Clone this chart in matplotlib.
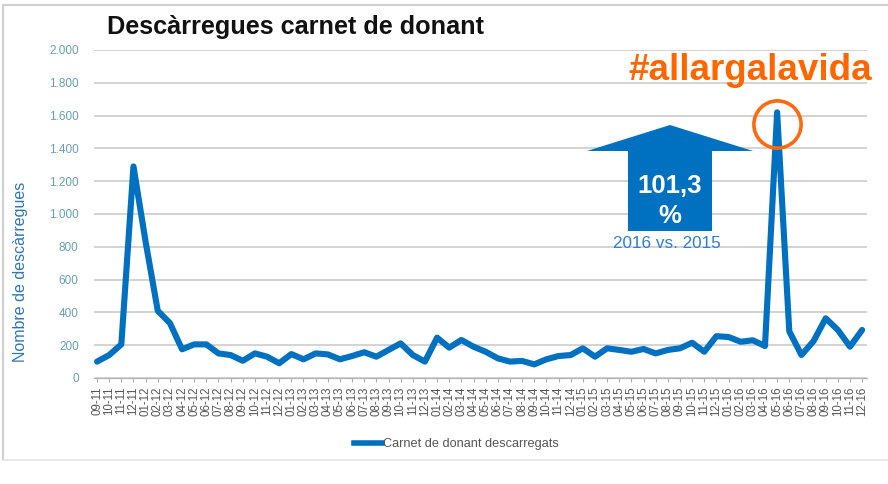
import matplotlib
matplotlib.use("Agg")
import matplotlib.pyplot as plt
from matplotlib.patches import Polygon
from matplotlib.lines import Line2D
import numpy as np

plt.rcParams['font.family'] = ['Liberation Sans', 'DejaVu Sans']

# ---- data ----
months = ["09-11", "10-11", "11-11", "12-11"] + [
    f"{m:02d}-{y}" for y in range(12, 17) for m in range(1, 13)]
downloads = [100, 140, 205, 1290, 830, 410, 335, 175, 205, 205,
             150, 140, 105, 150, 130, 90, 146, 114, 150, 144,
             114, 134, 157, 130, 171, 211, 140, 100, 246, 185,
             232, 191, 160, 120, 100, 104, 83, 114, 134, 140,
             181, 130, 181, 171, 160, 177, 150, 171, 181, 215,
             160, 255, 250, 221, 230, 195, 1620, 285, 140, 225,
             364, 293, 191, 293]
series_label = "Carnet de donant descarregats"
title = "Descàrregues carnet de donant"
ylabel = "Nombre de descàrregues"
yticks = [0, 200, 400, 600, 800, 1000, 1200, 1400, 1600, 1800, 2000]
growth_value = "101,3"
growth_unit = "%"
growth_sub = "2016 vs. 2015"
hashtag = "#allargalavida"

W, H = 888, 484
fig = plt.figure(figsize=(W / 100, H / 100), dpi=100)

def px(x, y):
    return (x / W, 1 - y / H)

ax = fig.add_axes([94 / W, 1 - 378 / H, (867 - 94) / W, (378 - 50) / H])

x = np.arange(len(downloads))
ax.plot(x, downloads, color='#0070c0', lw=4.4, solid_joinstyle='round',
        solid_capstyle='round', label=series_label, zorder=3)

ax.set_ylim(0, 2000)
ax.set_xlim(-0.25, len(downloads) - 0.6)
ax.set_yticks(yticks)
ax.set_yticklabels([f"{v:,}".replace(",", ".") for v in yticks],
                   color='#6a9fb0', fontsize=8.5)
ax.tick_params(axis='y', length=0, pad=11)
ax.set_xticks(x)
ax.set_xticklabels(months, rotation=90, fontsize=8.3, color='#555555')
ax.tick_params(axis='x', length=3, color='#b0b0b0', pad=3)
ax.grid(axis='y', color='#c8c8c8', lw=1.1)
ax.set_axisbelow(True)
for s in ['top', 'right', 'left']:
    ax.spines[s].set_visible(False)
ax.spines['bottom'].set_color('#b0b0b0')

ax.set_ylabel(ylabel, color='#2f75b5', fontsize=11.5)
ax.yaxis.set_label_coords(-0.086, 0.325)

fig.text(*px(107, 27), title, fontsize=18.2, fontweight='bold',
         color='#111111', ha='left', va='center')

# legend
leg = fig.legend(handles=[Line2D([], [], color='#0070c0', lw=4)],
                 labels=[series_label], loc='center left',
                 bbox_to_anchor=px(354, 444), frameon=False, fontsize=9.2,
                 handlelength=2.2, handletextpad=0.1, borderpad=0,
                 borderaxespad=0)
for t in leg.get_texts():
    t.set_color('#555555')

# growth arrow
arrow = [px(628, 231), px(628, 151), px(587, 151), px(670, 125),
         px(753, 151), px(712, 151), px(712, 231)]
fig.patches.append(Polygon(arrow, closed=True, transform=fig.transFigure,
                           facecolor='#0070c0', edgecolor='none', zorder=4))
fig.text(*px(670, 186), growth_value, fontsize=18.5, fontweight='bold',
         color='white', ha='center', va='center', zorder=5)
fig.text(*px(670, 216), growth_unit, fontsize=18.5, fontweight='bold',
         color='white', ha='center', va='center', zorder=5)
fig.text(*px(667, 244), growth_sub, fontsize=12.3, color='#2f7fd0',
         ha='center', va='center', zorder=5)

# highlight of the 2016 peak
peak = int(np.argmax(downloads))
ax.plot([peak], [downloads[peak] - 70], marker='o', ms=34, mfc='none',
        mec='#ff6a10', mew=2.6, zorder=5, clip_on=False)
fig.text(*px(628, 70), hashtag, fontsize=26.5, fontweight='bold',
         color='#ff6600', ha='left', va='center')

# frame
fig.add_artist(Line2D([3 / W, 3 / W, 1], [1 - 460 / H, 1 - 5 / H, 1 - 5 / H],
                      transform=fig.transFigure, color='#d0d0d0', lw=1.5))
fig.add_artist(Line2D([3 / W, 1], [1 - 460 / H, 1 - 460 / H],
                      transform=fig.transFigure, color='#e4e4e4', lw=1.2))

fig.savefig("out.png", dpi=100, facecolor='white')
